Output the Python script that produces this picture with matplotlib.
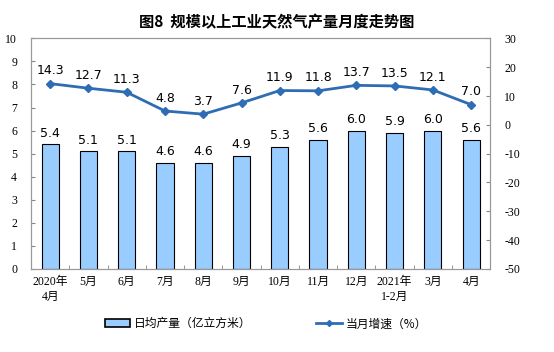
import matplotlib.pyplot as plt
import numpy as np
from matplotlib.patches import Patch
from matplotlib.lines import Line2D

plt.rcParams['font.family'] = ['Noto Sans CJK SC', 'DejaVu Sans']

months = ["2020年\n4月", "5月", "6月", "7月", "8月", "9月", "10月", "11月", "12月",
          "2021年\n1-2月", "3月", "4月"]
daily_output = [5.4, 5.1, 5.1, 4.6, 4.6, 4.9, 5.3, 5.6, 6.0, 5.9, 6.0, 5.6]
growth = [14.3, 12.7, 11.3, 4.8, 3.7, 7.6, 11.9, 11.8, 13.7, 13.5, 12.1, 7.0]

serif = ['Liberation Serif', 'Noto Sans CJK SC']

fig = plt.figure(figsize=(5.54, 3.52), dpi=100)
ax = fig.add_axes([0.056, 0.236, 0.829, 0.655])
x = np.arange(len(months))

ax.bar(x, daily_output, width=0.45, color='#99CCFF', edgecolor='black', linewidth=0.8)
for xi, v in zip(x, daily_output):
    ax.text(xi, v + 0.2, f"{v:.1f}", ha='center', va='bottom', fontsize=9, family='DejaVu Sans')

ax.set_xlim(-0.5, len(months) - 0.5)
ax.set_ylim(0, 10)
ax.set_yticks(range(0, 11))
ax.set_yticklabels([str(i) for i in range(0, 11)], family=serif, fontsize=8.5)
ax.set_xticks(x)
ax.set_xticklabels(months, family=serif, fontsize=8.5, linespacing=1.3)
ax.set_xticks(np.arange(-0.5, len(months)), minor=True)
ax.tick_params(axis='x', which='major', length=0, pad=5)
ax.tick_params(axis='x', which='minor', length=3, direction='in', color='#888888')
ax.tick_params(axis='y', length=3, direction='in', color='#888888', pad=10)
for s in ax.spines.values():
    s.set_color('#999999')
    s.set_linewidth(0.8)

ax2 = ax.twinx()
ax2.plot(x, growth, color='#2E6DB4', linewidth=2, marker='D', markersize=4.5)
for xi, v in zip(x, growth):
    ax2.text(xi, v + 2.2, f"{v:.1f}", ha='center', va='bottom', fontsize=9, family='DejaVu Sans')
ax2.set_ylim(-50, 30)
ax2.set_yticks(range(-50, 31, 10))
ax2.set_yticklabels([str(i) for i in range(-50, 31, 10)], family=serif, fontsize=8.5)
ax2.tick_params(axis='y', length=3, direction='in', color='#888888', pad=10)
for s in ax2.spines.values():
    s.set_color('#999999')
    s.set_linewidth(0.8)

fig.text(0.5, 0.937, "图8  规模以上工业天然气产量月度走势图", ha='center', va='center',
         fontsize=11, fontweight='bold')

handles = [Patch(facecolor='#99CCFF', edgecolor='black', linewidth=1.2),
           Line2D([0], [0], color='#2E6DB4', linewidth=2, marker='D', markersize=3)]
fig.legend(handles, ["日均产量（亿立方米）", "当月增速（%）"], loc='center',
           bbox_to_anchor=(0.48, 0.08), ncol=2, frameon=False, fontsize=8.5,
           columnspacing=5.5, handlelength=2.2, handletextpad=0.3)

fig.savefig('out.png', dpi=100)
